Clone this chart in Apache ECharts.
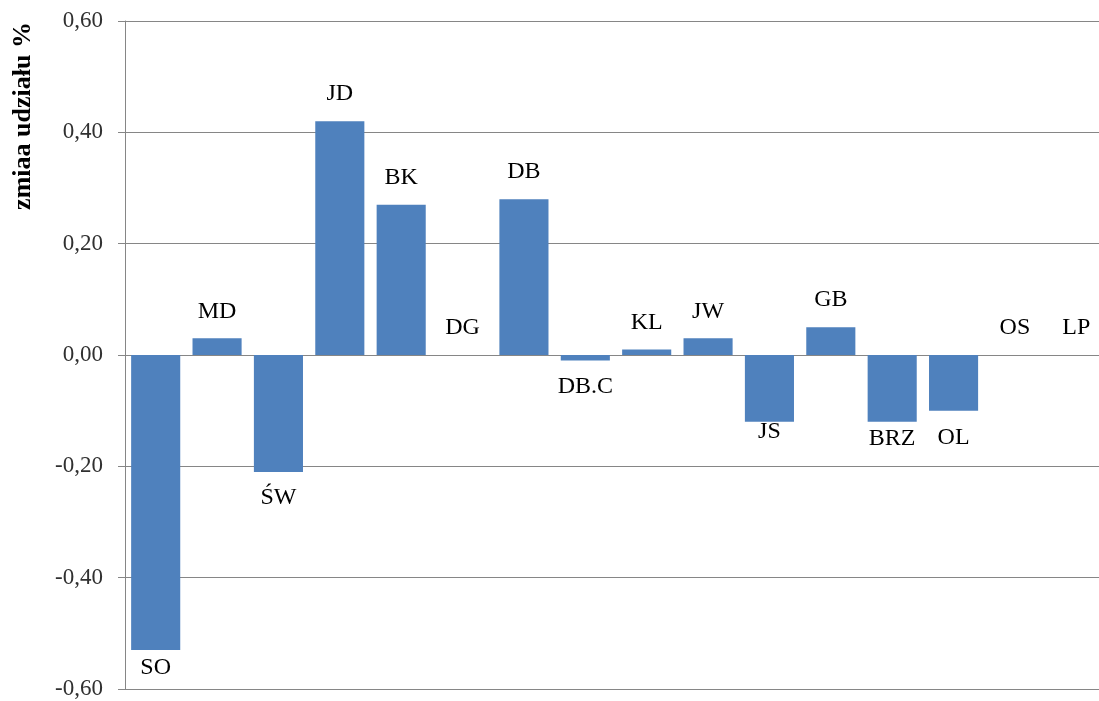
<!DOCTYPE html>
<html>
<head>
<meta charset="utf-8">
<script src="https://cdn.jsdelivr.net/npm/echarts@6/dist/echarts.min.js"></script>
<style>
  html, body { margin: 0; padding: 0; background: #fff; overflow: hidden; width: 1099px; height: 701px; }
  /* wykres w oryginale jest przycięty z prawej strony */
  #chart { width: 1107px; height: 701px; }
</style>
</head>
<body>
<div id="chart"></div>
<script>
// kategorie i zmiany udziału
var categories = ['SO', 'MD', 'ŚW', 'JD', 'BK', 'DG', 'DB', 'DB.C', 'KL', 'JW', 'JS', 'GB', 'BRZ', 'OL', 'OS', 'LP'];
var values = [-0.53, 0.03, -0.21, 0.42, 0.27, 0, 0.28, -0.01, 0.01, 0.03, -0.12, 0.05, -0.12, -0.10, 0, 0];
var axisName = 'zmiaa udziału %';

// odstęp etykiety od słupka (etykiety w oryginale przesuwane ręcznie)
var labelGap = [6, 15, 14, 15, 15, 15, 15, 14, 15, 15, -2, 15, 5, 15, 15, 15];

var chart = echarts.init(document.getElementById('chart'));

// etykieta nad słupkiem dodatnim, pod ujemnym
var barData = values.map(function (v, i) {
    return {
        value: v,
        label: {
            position: v < 0 ? 'bottom' : 'top',
            distance: labelGap[i]
        }
    };
});

var option = {
    animation: false,
    grid: {
        left: 125,
        right: 0,
        top: 21,
        bottom: 12
    },
    xAxis: {
        type: 'category',
        data: categories,
        axisLine: { show: false },
        axisTick: { show: false },
        axisLabel: { show: false }
    },
    yAxis: {
        type: 'value',
        min: -0.6,
        max: 0.6,
        interval: 0.2,
        axisLine: { show: true, lineStyle: { color: '#868686', width: 1 } },
        axisTick: { show: true, length: 7, lineStyle: { color: '#868686' } },
        splitLine: { show: true, lineStyle: { color: '#868686', width: 1 } },
        axisLabel: {
            margin: 22,
            color: '#303030',
            fontFamily: 'Liberation Serif',
            fontSize: 23,
            formatter: function (v) {
                return v.toFixed(2).replace('.', ',');
            }
        }
    },
    series: [{
        type: 'bar',
        data: barData,
        barCategoryGap: '20%',
        itemStyle: { color: '#4F81BD' },
        label: {
            show: true,
            color: '#000',
            fontFamily: 'Liberation Serif',
            fontSize: 24,
            formatter: function (p) {
                return categories[p.dataIndex];
            }
        }
    }],
    graphic: [{
        type: 'text',
        x: 23,
        y: 116,
        rotation: Math.PI / 2,
        style: {
            text: axisName,
            fontFamily: 'Liberation Serif',
            fontWeight: 'bold',
            fontSize: 26,
            fill: '#000',
            textAlign: 'center',
            textVerticalAlign: 'middle'
        }
    }]
};

chart.setOption(option);
</script>
</body>
</html>
